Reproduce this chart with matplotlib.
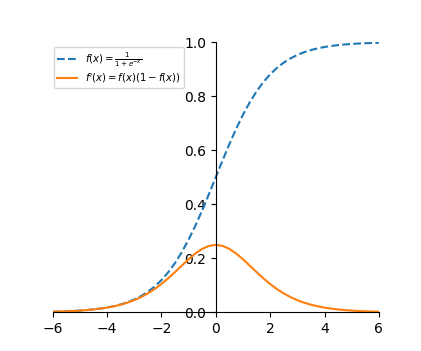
import matplotlib
matplotlib.use("Agg")
import matplotlib.pyplot as plt

# x positions and values (step 0.25)
x = [-6.0, -5.75, -5.5, -5.25, -5.0, -4.75, -4.5, -4.25, -4.0, -3.75, -3.5, -3.25,
     -3.0, -2.75, -2.5, -2.25, -2.0, -1.75, -1.5, -1.25, -1.0, -0.75, -0.5, -0.25,
     0.0, 0.25, 0.5, 0.75, 1.0, 1.25, 1.5, 1.75, 2.0, 2.25, 2.5, 2.75,
     3.0, 3.25, 3.5, 3.75, 4.0, 4.25, 4.5, 4.75, 5.0, 5.25, 5.5, 5.75, 6.0]

sigmoid = [0.0025, 0.0032, 0.0041, 0.0052, 0.0067, 0.0086, 0.0110, 0.0141, 0.0180,
           0.0230, 0.0293, 0.0373, 0.0474, 0.0601, 0.0759, 0.0954, 0.1192, 0.1481,
           0.1824, 0.2227, 0.2689, 0.3208, 0.3775, 0.4378, 0.5000, 0.5622, 0.6225,
           0.6792, 0.7311, 0.7773, 0.8176, 0.8519, 0.8808, 0.9046, 0.9241, 0.9399,
           0.9526, 0.9627, 0.9707, 0.9770, 0.9820, 0.9859, 0.9890, 0.9914, 0.9933,
           0.9948, 0.9959, 0.9968, 0.9975]

deriv = [0.0025, 0.0032, 0.0041, 0.0052, 0.0066, 0.0085, 0.0109, 0.0139, 0.0177,
         0.0225, 0.0285, 0.0359, 0.0452, 0.0565, 0.0701, 0.0863, 0.1050, 0.1261,
         0.1491, 0.1731, 0.1966, 0.2179, 0.2350, 0.2461, 0.2500, 0.2461, 0.2350,
         0.2179, 0.1966, 0.1731, 0.1491, 0.1261, 0.1050, 0.0863, 0.0701, 0.0565,
         0.0452, 0.0359, 0.0285, 0.0225, 0.0177, 0.0139, 0.0109, 0.0085, 0.0066,
         0.0052, 0.0041, 0.0032, 0.0025]

fig, ax = plt.subplots(figsize=(4.21, 3.51), dpi=100)

ax.plot(x, sigmoid, "--", label=r"$f(x)=\frac{1}{1+e^{-x}}$")
ax.plot(x, deriv, label=r"$f'(x)=f(x)(1-f(x))$")

ax.spines["left"].set_position(("data", 0))
ax.spines["bottom"].set_position(("data", 0))
ax.spines["top"].set_visible(False)
ax.spines["right"].set_visible(False)

ax.set_xlim(-6, 6)
ax.set_ylim(0, 1)
ax.legend(loc="upper left", fontsize=7.3, borderpad=0.3, labelspacing=0.25,
          handlelength=2.0, borderaxespad=0, bbox_to_anchor=(0.004, 0.982))

fig.savefig("out.png")
